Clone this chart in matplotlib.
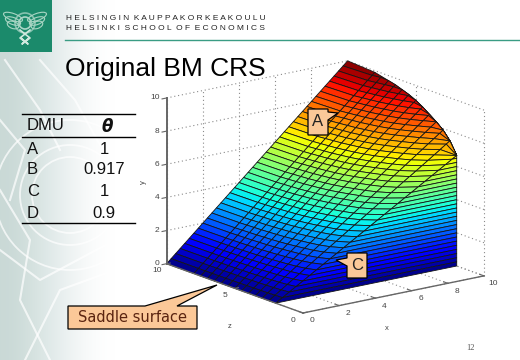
import matplotlib
matplotlib.use('Agg')
import matplotlib.pyplot as plt
import numpy as np
from matplotlib.patches import Polygon, Circle, Ellipse
from matplotlib.transforms import offset_copy
from mpl_toolkits.mplot3d import proj3d

plt.rcParams['font.family'] = ['Liberation Sans', 'DejaVu Sans']

# surface: y levels of the rows, z of the columns,
# and the height of the surface along the x=10 edge for each column
y_levels = [0, 0.25, 0.5, 0.75, 1, 1.25, 1.5, 1.75, 2, 2.25, 2.5, 2.75, 3, 3.25,
            3.5, 3.75, 4, 4.25, 4.5, 4.75, 5, 5.25, 5.5, 5.75, 6, 6.25, 6.5, 6.75,
            7, 7.25, 7.5, 7.75, 8, 8.25, 8.5, 8.75, 9, 9.25, 9.5, 9.75, 10]
z_cols = [2, 2.5, 3, 3.5, 4, 4.5, 5, 5.5, 6, 6.5, 7, 7.5, 8, 10]
y_at_x10 = [6.67, 7.4, 7.9, 8.25, 8.55, 8.85, 9.1, 9.3, 9.45, 9.6, 9.7, 9.8, 9.9, 10]

x_ticks = [0, 2, 4, 6, 8, 10]
y_ticks = [0, 2, 4, 6, 8, 10]
z_ticks = [0, 5, 10]

dmu_names = ['A', 'B', 'C', 'D']
dmu_theta = ['1', '0.917', '1', '0.9']

GRID = '#8a8a8a'
AXIS = '#666666'
LABEL = '#444444'
PEACH = '#fbc898'
GREEN = '#1b8a6b'

fig = plt.figure(figsize=(5.2, 3.6), dpi=100)

# background layer, pixel coords
bg = fig.add_axes([0, 0, 1, 1], zorder=0)
bg.set_xlim(0, 520)
bg.set_ylim(360, 0)
bg.axis('off')

shade = np.array([[0.79, 0.85, 0.84], [0.84, 0.89, 0.88], [0.90, 0.93, 0.93],
                  [0.96, 0.97, 0.97], [1, 1, 1]])
bg.imshow(shade[None, :, :], extent=(0, 115, 360, 0), aspect='auto', interpolation='bicubic')
bg.set_xlim(0, 520)
bg.set_ylim(360, 0)

# watermark, white on the gradient
for cx, cy, r in [(70, 195, 50), (70, 195, 38), (70, 195, 75)]:
    bg.add_patch(Circle((cx, cy), r, fill=False, ec='white', lw=1.3, alpha=0.7))
for pts in [[(0, 190), (30, 240), (20, 300), (50, 360)], [(5, 60), (40, 110), (60, 150)],
            [(0, 250), (40, 280), (115, 240)], [(25, 360), (60, 290), (115, 270)],
            [(40, 60), (75, 100), (100, 145)], [(0, 120), (25, 150), (10, 200)]]:
    bg.plot(*zip(*pts), color='white', lw=1.5, alpha=0.7)

bg.add_patch(plt.Rectangle((0, 0), 52, 52, fc=GREEN, ec='none'))
for r, a in [(6, 0.8), (10, 0.6)]:
    bg.add_patch(Circle((25, 23), r, fill=False, ec='#cfe8de', lw=1.2, alpha=a))
for dy in [0, 4, 8]:
    bg.add_patch(Ellipse((13, 17 + dy), 20 - dy, 7, angle=20, fill=False, ec='#a9d6c4', lw=0.8))
    bg.add_patch(Ellipse((37, 17 + dy), 20 - dy, 7, angle=-20, fill=False, ec='#a9d6c4', lw=0.8))
bg.plot([20, 30, 22, 29], [30, 38, 44, 38], color='#cfe8de', lw=1.2)
bg.plot([30, 20, 28, 21], [30, 38, 44, 38], color='#cfe8de', lw=1.2)

bg.plot([65, 520], [40, 40], color='#3a9c84', lw=1)
bg.text(66, 19, 'H E L S I N G I N  K A U P P A K O R K E A K O U L U', fontsize=6, va='center', color='#222222')
bg.text(66, 29, 'H E L S I N K I  S C H O O L  O F  E C O N O M I C S', fontsize=6, va='center', color='#222222')
bg.text(65, 76, 'Original BM CRS', fontsize=19, va='baseline', color='black')

# table
for yy in [114, 137, 223]:
    bg.plot([22, 135], [yy, yy], color='black', lw=1)
bg.text(27, 126, 'DMU', fontsize=12, va='center', color='#111111')
bg.text(107, 127, 'θ', fontsize=12, va='center', ha='center', style='italic', weight='bold',
        family=['DejaVu Sans'], color='#111111')
for name, theta, yy in zip(dmu_names, dmu_theta, [149, 170, 191, 213]):
    bg.text(27, yy, name, fontsize=12, va='center', color='#111111')
    bg.text(104, yy, theta, fontsize=12, va='center', ha='center', color='#111111')

bg.text(470, 348, '12', fontsize=6, ha='center', va='center', family=['Liberation Serif'], color='#555555')

# 3d part: matplotlib x, y, z hold chart x, z, y
ax = fig.add_axes([0.1, 0.1, 0.8, 0.8], projection='3d', zorder=1)
ax.patch.set_alpha(0)
ax.set_axis_off()
ax.computed_zorder = False
ax.set_proj_type('ortho')
ax.set_box_aspect((1, 1, 0.76))
ax.view_init(elev=15.8, azim=-127)
ax.set_xlim(0, 10, view_margin=0)
ax.set_ylim(0, 10, view_margin=0)
ax.set_zlim(0, 10, view_margin=0)


def to_px(x, y, z):
    xp, yp, _ = proj3d.proj_transform(x, z, y, ax.get_proj())
    return ax.transData.transform((xp, yp))


# scale and place the box so that the origin and x axis land as in the slide
side = 300.0
ax.set_position([0.2, 0.2, side / 520, side / 360])
ax.apply_aspect()
side = side * 18.1 * 10 / (to_px(10, 0, 0) - to_px(0, 0, 0))[0]
ax.set_position([0.2, 0.2, side / 520, side / 360])
ax.apply_aspect()
off = np.array([303, 360 - 313]) - to_px(0, 0, 0)
ax.set_position([0.2 + off[0] / 520, 0.2 + off[1] / 360, side / 520, side / 360])
ax.apply_aspect()


def line3(xs, ys, zs, **kw):
    ax.plot(xs, zs, ys, clip_on=False, **kw)


grid_kw = dict(color=GRID, lw=0.8, ls=(0, (1, 2.5)), zorder=1)
for t in y_ticks:
    line3([0, 10], [t, t], [10, 10], **grid_kw)
    line3([10, 10], [t, t], [10, 0], **grid_kw)
for t in x_ticks:
    line3([t, t], [0, 10], [10, 10], **grid_kw)
    line3([t, t], [0, 0], [0, 10], **grid_kw)
for t in z_ticks:
    line3([10, 10], [0, 10], [t, t], **grid_kw)
    line3([0, 10], [0, 0], [t, t], **grid_kw)

# surface, rows at constant y
y_arr = np.array(y_levels)
z_arr = np.array(z_cols)
top = np.array(y_at_x10)
Y = np.minimum(y_arr[:, None], top[None, :])
X = Y / top * 10
Z = np.tile(z_arr, (len(y_arr), 1))

# flat wall at z=2 in front of the curved part
Y_w = np.minimum(y_arr[:, None], top[0]) * np.ones((len(y_arr), 2))
X_w = np.column_stack([Y_w[:, 0] / top[0] * 10, np.full(len(y_arr), 10.0)])
Z_w = np.full(X_w.shape, z_cols[0])

for xx, yy, zz in [(X, Y, Z), (X_w, Y_w, Z_w)]:
    mid = (y_arr[:-1] + y_arr[1:]) / 2
    cols = plt.cm.jet(mid / 10)
    fc = np.repeat(cols[:, None, :], xx.shape[1] - 1, axis=1)
    surf = ax.plot_surface(xx, zz, yy, facecolors=fc, rstride=1, cstride=1, shade=False,
                           linewidth=0.6, antialiased=True, zorder=2)
    surf.set_edgecolor('#151515')

# axes lines and ticks
line3([0, 0], [0, 10], [10, 10], color=AXIS, lw=1.4, zorder=3)
line3([0, 0], [0, 0], [0, 10], color=AXIS, lw=1, zorder=3)
line3([0, 10], [0, 0], [0, 0], color=AXIS, lw=1, zorder=3)
for t in y_ticks:
    line3([0, -0.25], [t, t], [10, 10], color=AXIS, lw=0.8, zorder=3)
for t in x_ticks:
    line3([t, t], [0, 0], [0, 0.3], color=AXIS, lw=0.8, zorder=3)
for t in z_ticks:
    line3([0, 0.2], [0, 0], [t, t], color=AXIS, lw=0.8, zorder=3)


def shifted(dx, dy):
    return offset_copy(ax.transData, fig=fig, x=dx, y=dy, units='dots')


tick_kw = dict(fontsize=6, color=LABEL, va='center')
for t in y_ticks:
    ax.text(0, 10, t, str(t), ha='right', transform=shifted(-7, 0), **tick_kw)
for t in x_ticks:
    ax.text(t, 0, 0, str(t), ha='center', transform=shifted(9, -8), **tick_kw)
for t in z_ticks:
    ax.text(0, t, 0, str(t), ha='center', transform=shifted(-10, -7), **tick_kw)

# top layer: axis names and callouts
top_ax = fig.add_axes([0, 0, 1, 1], zorder=2)
top_ax.set_xlim(0, 520)
top_ax.set_ylim(360, 0)
top_ax.axis('off')
top_ax.text(143, 182, 'y', fontsize=5.5, rotation=90, ha='center', va='center', color=LABEL)
top_ax.text(230, 327, 'z', fontsize=5.5, ha='center', va='center', color=LABEL)
top_ax.text(387, 329, 'x', fontsize=5.5, ha='center', va='center', color=LABEL)

callouts = [
    ('A', [(308, 109), (328, 109), (328, 112), (338, 113), (328, 120), (328, 135), (308, 135)], 318, 122),
    ('C', [(347, 253), (367, 253), (367, 278), (347, 278), (347, 266), (336, 260), (347, 258)], 357, 266),
]
for label, pts, tx, ty in callouts:
    top_ax.add_patch(Polygon(pts, closed=True, fc=PEACH, ec='black', lw=0.9))
    top_ax.text(tx, ty, label, fontsize=12, ha='center', va='center', color='#222222')
top_ax.add_patch(Polygon([(68, 306), (145, 306), (217, 285), (177, 306), (197, 306), (197, 329), (68, 329)],
                         closed=True, fc=PEACH, ec='black', lw=0.9))
top_ax.text(132.5, 317.5, 'Saddle surface', fontsize=10.5, ha='center', va='center',
            family=['DejaVu Sans'], color='#5a2410')

fig.savefig('out.png', dpi=100)
